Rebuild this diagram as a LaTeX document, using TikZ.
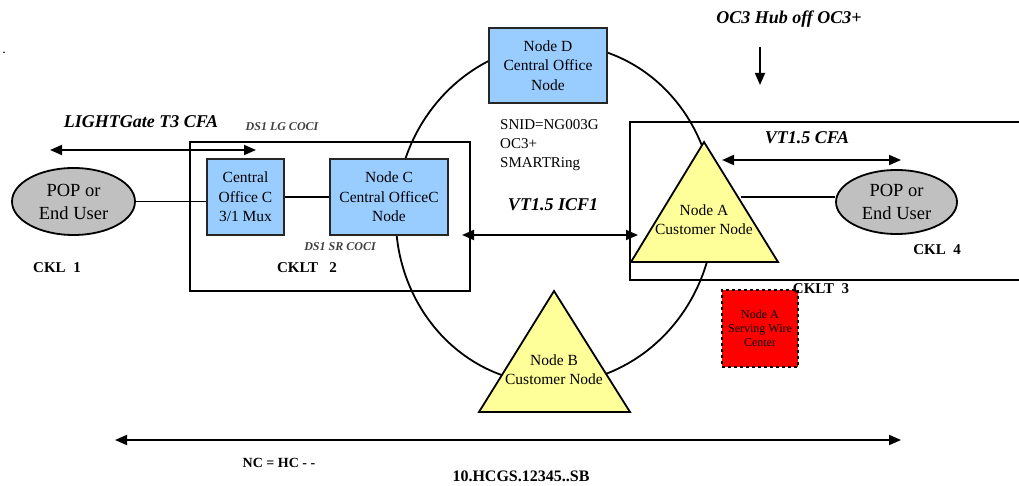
\documentclass[tikz,border=0pt]{standalone}
\usepackage{fontspec}
\setmainfont{Liberation Serif}
\usetikzlibrary{arrows.meta,shapes.geometric}
\definecolor{boxblue}{HTML}{99CCFF}
\definecolor{triyellow}{HTML}{FFFF99}
\definecolor{popgray}{HTML}{C0C0C0}
\begin{document}
\begin{tikzpicture}[x=1pt,y=-1pt,
  bluebox/.style={draw=black!85, fill=boxblue, line width=1.8, inner sep=0pt, align=center,
    font=\fontsize{15.5}{19.5}\selectfont},
  popnode/.style={draw=black, fill=popgray, line width=1.8, ellipse, inner sep=0pt, align=center,
    font=\fontsize{18.5}{23}\selectfont},
  trishape/.style={draw=black, fill=triyellow, line width=1.8, line join=miter},
  tritext/.style={align=center, font=\fontsize{15.5}{19}\selectfont},
  ckt/.style={draw=black, line width=1.8},
  ring/.style={draw=black, line width=1.8},
  link/.style={draw=black, line width=1.8},
  dbl/.style={line width=1.8, {Triangle[length=12,width=10]}-{Triangle[length=12,width=10]}},
  sgl/.style={line width=1.8, -{Triangle[length=12,width=10]}},
  bigital/.style={font=\fontsize{18}{22}\selectfont\bfseries\itshape},
  smallital/.style={font=\fontsize{12}{14}\selectfont\bfseries\itshape, text=black!75},
  cklabel/.style={font=\fontsize{15}{18}\selectfont\bfseries},
  plain/.style={align=left, font=\fontsize{15}{19}\selectfont},
]
\useasboundingbox (0,0) rectangle (1019,486);

% ring
\draw[ring, rotate around={-8:(555,214)}] (555,214) ellipse [x radius=159, y radius=170];

% circuit boxes
\draw[ckt] (190,142) rectangle (470,291);
\draw[ckt] (1019,122) -- (630,122) -- (630,280) -- (1019,280);

% blue boxes
\node[bluebox, minimum width=118pt, minimum height=75pt] (nodeD) at (548,65.5) {Node D\\Central Office\\Node};
\node[bluebox, minimum width=77pt, minimum height=76pt] (coc) at (245.5,197) {Central\\Office C\\3/1 Mux};
\node[bluebox, minimum width=118pt, minimum height=76pt] (nodeC) at (389,197) {Node C\\Central OfficeC\\Node};

% triangles
\path[trishape] (631,262) -- (704,142) -- (778,262) -- cycle;
\node[tritext] (nodeA) at (704,220) {Node A\\Customer Node};
\path[trishape] (479,412) -- (554,291) -- (630,412) -- cycle;
\node[tritext] (nodeB) at (554,370) {Node B\\Customer Node};

% POP ellipses
\node[popnode, minimum width=123pt, minimum height=67pt] (popL) at (73.5,201.5) {POP or\\End User};
\node[popnode, minimum width=121pt, minimum height=64pt] (popR) at (896.5,202) {POP or\\End User};

% red box
\node[draw=black, dashed, fill=red, line width=1.4, minimum width=76pt, minimum height=77pt, inner sep=0pt,
  align=center, font=\fontsize{12}{14}\selectfont] (wire) at (760,328.5) {Node A\\Serving Wire\\Center};

% links
\coordinate (aR) at (741,197);
\draw[link] (popL.east) -- (coc.west |- popL.east);
\draw[link] (coc.east) -- (nodeC.west);
\draw[link] (aR) -- (aR -| popR.west);

% arrows
\coordinate (lgL) at (50,150);
\coordinate (lgR) at (256,150);
\draw[dbl] (lgL) -- (lgR);
\coordinate (cfaL) at (722,160);
\coordinate (cfaR) at (901,160);
\draw[dbl] (cfaL) -- (cfaR);
\coordinate (icfL) at (462,235);
\coordinate (icfR) at (638,235);
\draw[dbl] (icfL) -- (icfR);
\coordinate (ncL) at (115,440);
\coordinate (ncR) at (901,440);
\draw[dbl] (ncL) -- (ncR);
\coordinate (hubT) at (760,47);
\coordinate (hubB) at (760,85);
\draw[sgl] (hubT) -- (hubB);

% labels
\node[bigital] (lglabel) at (141,122) {LIGHTGate T3 CFA};
\node[smallital] (dslg) at (282,127) {DS1 LG COCI};
\node[smallital] (dssr) at (340,247) {DS1 SR COCI};
\node[cklabel] (ckl1) at (57,268) {CKL\ \ 1};
\node[cklabel] (cklt2) at (307,268) {CKLT\ \ \ 2};
\node[bigital] (hub) at (789,19) {OC3 Hub off OC3+};
\node[plain, anchor=north west, inner sep=0pt] (snid) at (500,119) {SNID=NG003G\\OC3+\\SMARTRing};
\node[bigital] (icf) at (553,205) {VT1.5 ICF1};
\node[bigital] (cfa) at (807,138) {VT1.5 CFA};
\node[cklabel] (ckl4) at (937,250) {CKL\ \ 4};
\node[cklabel] (cklt3) at (821,289) {CKLT\ \ 3};
\node[font=\fontsize{14}{16}\selectfont\bfseries] (nchc) at (279,463) {NC = HC - -};
\node[font=\fontsize{16}{18}\selectfont\bfseries] (hcgs) at (521,476) {10.HCGS.12345..SB};
\node[font=\fontsize{14}{16}\selectfont] (dot) at (4,53) {.};
\end{tikzpicture}
\end{document}
